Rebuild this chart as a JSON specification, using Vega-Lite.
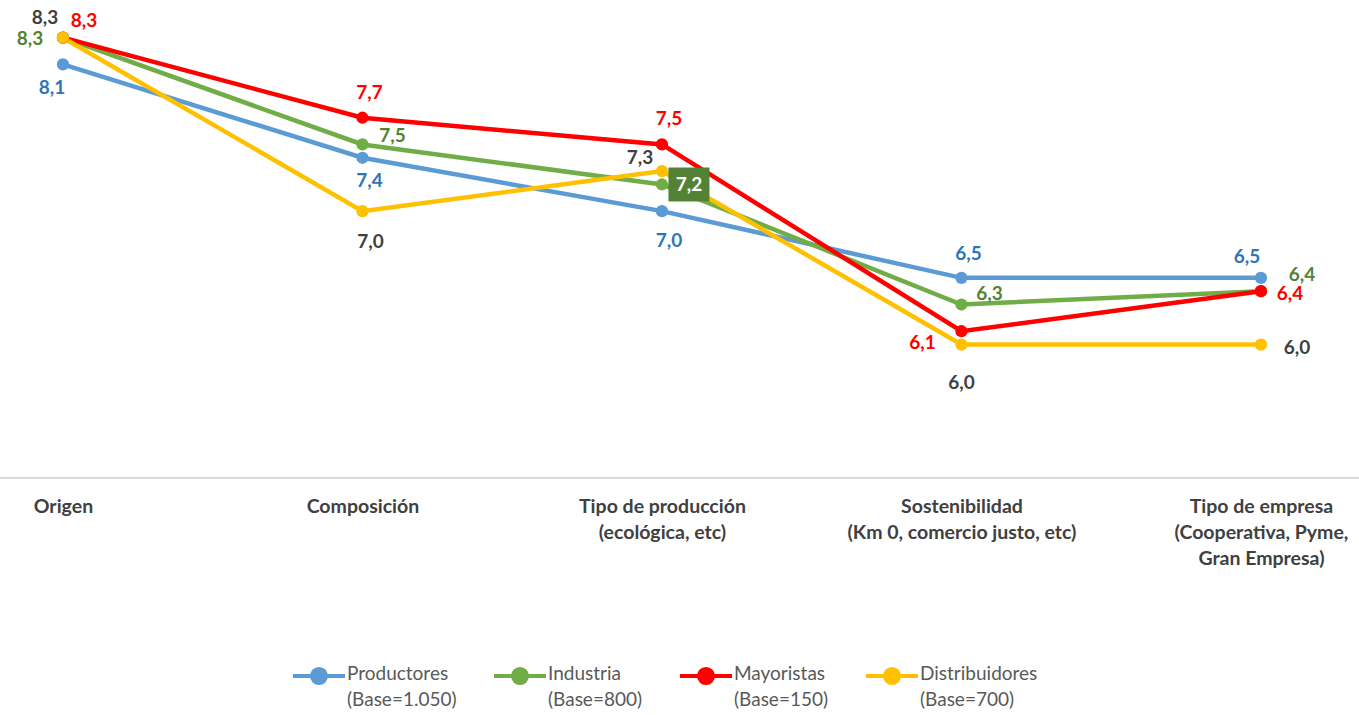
{
  "$schema": "https://vega.github.io/schema/vega-lite/v6.json",
  "width": 1359,
  "height": 467,
  "autosize": {"type": "none"},
  "padding": {"top": 11, "left": 0, "right": 0, "bottom": 237},
  "background": "white",
  "config": {
    "view": {"stroke": null},
    "locale": {"number": {"decimal": ",", "thousands": ".", "grouping": [3], "currency": ["", " €"]}},
    "text": {"font": "Lato", "fontSize": 19, "fontWeight": "bold"}
  },
  "data": {
    "values": [
      {"s": "Productores", "c": "Origen", "v": 8.1},
      {"s": "Productores", "c": "Composición", "v": 7.4},
      {"s": "Productores", "c": "Tipo de producción|(ecológica, etc)", "v": 7.0},
      {"s": "Productores", "c": "Sostenibilidad|(Km 0, comercio justo, etc)", "v": 6.5},
      {"s": "Productores", "c": "Tipo de empresa|(Cooperativa, Pyme,|Gran Empresa)", "v": 6.5},
      {"s": "Industria", "c": "Origen", "v": 8.3},
      {"s": "Industria", "c": "Composición", "v": 7.5},
      {"s": "Industria", "c": "Tipo de producción|(ecológica, etc)", "v": 7.2},
      {"s": "Industria", "c": "Sostenibilidad|(Km 0, comercio justo, etc)", "v": 6.3},
      {"s": "Industria", "c": "Tipo de empresa|(Cooperativa, Pyme,|Gran Empresa)", "v": 6.4},
      {"s": "Mayoristas", "c": "Origen", "v": 8.3},
      {"s": "Mayoristas", "c": "Composición", "v": 7.7},
      {"s": "Mayoristas", "c": "Tipo de producción|(ecológica, etc)", "v": 7.5},
      {"s": "Mayoristas", "c": "Sostenibilidad|(Km 0, comercio justo, etc)", "v": 6.1},
      {"s": "Mayoristas", "c": "Tipo de empresa|(Cooperativa, Pyme,|Gran Empresa)", "v": 6.4},
      {"s": "Distribuidores", "c": "Origen", "v": 8.3},
      {"s": "Distribuidores", "c": "Composición", "v": 7.0},
      {"s": "Distribuidores", "c": "Tipo de producción|(ecológica, etc)", "v": 7.3},
      {"s": "Distribuidores", "c": "Sostenibilidad|(Km 0, comercio justo, etc)", "v": 6.0},
      {"s": "Distribuidores", "c": "Tipo de empresa|(Cooperativa, Pyme,|Gran Empresa)", "v": 6.0}
    ]
  },
  "encoding": {
    "x": {
      "field": "c", "type": "nominal", "sort": null,
      "scale": {"type": "point", "padding": 0.2688, "align": 0.391},
      "axis": {
        "title": null, "domain": false, "ticks": false, "labelAngle": 0,
        "labelExpr": "split(datum.label, '|')", "labelLimit": 400,
        "labelFont": "Lato", "labelFontSize": 19.5, "labelFontWeight": "bold",
        "labelColor": "#404040", "labelPadding": 19, "labelLineHeight": 26, "labelBaseline": "top"
      }
    },
    "y": {"field": "v", "type": "quantitative", "scale": {"domain": [5, 8.5], "nice": false, "zero": false}, "axis": null},
    "text": {"field": "v", "type": "quantitative", "format": ".1f"}
  },
  "layer": [
    {"mark": {"type": "rule", "color": "#D9D9D9", "strokeWidth": 1.5}, "encoding": {"y": {"datum": 5}, "x": null, "text": null}},
    {
      "mark": {"type": "line", "strokeWidth": 4.5},
      "encoding": {
        "text": null,
        "color": {
          "field": "s", "type": "nominal", "sort": null,
          "scale": {"domain": ["Productores", "Industria", "Mayoristas", "Distribuidores"], "range": ["#5B9BD5", "#70AD47", "#FF0000", "#FFC000"]},
          "legend": {
            "title": null, "orient": "none", "legendX": 291, "legendY": 637, "direction": "horizontal",
            "padding": 0, "columnPadding": 29, "labelOffset": 0,
            "symbolType": "M-1,0H1M0.27,0A0.27,0.27,0,1,1,-0.27,0A0.27,0.27,0,1,1,0.27,0Z",
            "symbolSize": 2704, "symbolStrokeWidth": 4,
            "labelFont": "Lato", "labelFontSize": 19, "labelColor": "#595959",
            "labelBaseline": "top", "labelLimit": 300,
            "labelExpr": "[datum.label, datum.label=='Productores' ? '(Base=1.050)' : datum.label=='Industria' ? '(Base=800)' : datum.label=='Mayoristas' ? '(Base=150)' : '(Base=700)']",
            "encode": {
              "symbols": {"update": {"fill": {"scale": "color", "field": "value"}, "fillOpacity": {"value": 1}}},
              "labels": {"update": {"dy": {"value": -11}, "lineHeight": {"value": 26}}}
            }
          }
        }
      }
    },
    {
      "mark": {"type": "point", "filled": true, "size": 150, "opacity": 1, "shape": "circle"},
      "encoding": {
        "text": null,
        "color": {"field": "s", "type": "nominal", "sort": null, "legend": null}
      }
    },
    {"transform": [{"filter": "datum.s=='Distribuidores' && datum.c=='Origen'"}], "mark": {"type": "text", "dx": -18, "dy": -20, "color": "#404040"}},
    {"transform": [{"filter": "datum.s=='Mayoristas' && datum.c=='Origen'"}], "mark": {"type": "text", "dx": 21, "dy": -17, "color": "#FF0000"}},
    {"transform": [{"filter": "datum.s=='Industria' && datum.c=='Origen'"}], "mark": {"type": "text", "dx": -33, "dy": 1, "color": "#548235"}},
    {"transform": [{"filter": "datum.s=='Productores' && datum.c=='Origen'"}], "mark": {"type": "text", "dx": -11, "dy": 24, "color": "#2E75B6"}},
    {"transform": [{"filter": "datum.s=='Mayoristas' && datum.c=='Composición'"}], "mark": {"type": "text", "dx": 7, "dy": -25, "color": "#FF0000"}},
    {"transform": [{"filter": "datum.s=='Industria' && datum.c=='Composición'"}], "mark": {"type": "text", "dx": 30, "dy": -8, "color": "#548235"}},
    {"transform": [{"filter": "datum.s=='Productores' && datum.c=='Composición'"}], "mark": {"type": "text", "dx": 7, "dy": 23, "color": "#2E75B6"}},
    {"transform": [{"filter": "datum.s=='Distribuidores' && datum.c=='Composición'"}], "mark": {"type": "text", "dx": 8, "dy": 31, "color": "#404040"}},
    {"transform": [{"filter": "datum.s=='Mayoristas' && indexof(datum.c,'producción')>=0"}], "mark": {"type": "text", "dx": 7, "dy": -25, "color": "#FF0000"}},
    {"transform": [{"filter": "datum.s=='Distribuidores' && indexof(datum.c,'producción')>=0"}], "mark": {"type": "text", "dx": -22, "dy": -13, "color": "#404040"}},
    {"transform": [{"filter": "datum.s=='Industria' && indexof(datum.c,'producción')>=0"}], "mark": {"type": "point", "filled": true, "opacity": 1, "color": "#548235", "shape": "M-1,-0.83H1V0.83H-1Z", "size": 1681, "xOffset": 27}, "encoding": {"text": null}},
    {"transform": [{"filter": "datum.s=='Industria' && indexof(datum.c,'producción')>=0"}], "mark": {"type": "text", "dx": 27, "dy": 1, "color": "#FFFFFF"}},
    {"transform": [{"filter": "datum.s=='Productores' && indexof(datum.c,'producción')>=0"}], "mark": {"type": "text", "dx": 7, "dy": 30, "color": "#2E75B6"}},
    {"transform": [{"filter": "datum.s=='Productores' && indexof(datum.c,'Sostenibilidad')>=0"}], "mark": {"type": "text", "dx": 7, "dy": -24, "color": "#2E75B6"}},
    {"transform": [{"filter": "datum.s=='Industria' && indexof(datum.c,'Sostenibilidad')>=0"}], "mark": {"type": "text", "dx": 28, "dy": -11, "color": "#548235"}},
    {"transform": [{"filter": "datum.s=='Mayoristas' && indexof(datum.c,'Sostenibilidad')>=0"}], "mark": {"type": "text", "dx": -39, "dy": 12, "color": "#FF0000"}},
    {"transform": [{"filter": "datum.s=='Distribuidores' && indexof(datum.c,'Sostenibilidad')>=0"}], "mark": {"type": "text", "dx": 0, "dy": 38, "color": "#404040"}},
    {"transform": [{"filter": "datum.s=='Productores' && indexof(datum.c,'empresa')>=0"}], "mark": {"type": "text", "dx": -14, "dy": -21, "color": "#2E75B6"}},
    {"transform": [{"filter": "datum.s=='Industria' && indexof(datum.c,'empresa')>=0"}], "mark": {"type": "text", "dx": 41, "dy": -16, "color": "#548235"}},
    {"transform": [{"filter": "datum.s=='Mayoristas' && indexof(datum.c,'empresa')>=0"}], "mark": {"type": "text", "dx": 29, "dy": 3, "color": "#FF0000"}},
    {"transform": [{"filter": "datum.s=='Distribuidores' && indexof(datum.c,'empresa')>=0"}], "mark": {"type": "text", "dx": 36, "dy": 3, "color": "#404040"}}
  ]
}
